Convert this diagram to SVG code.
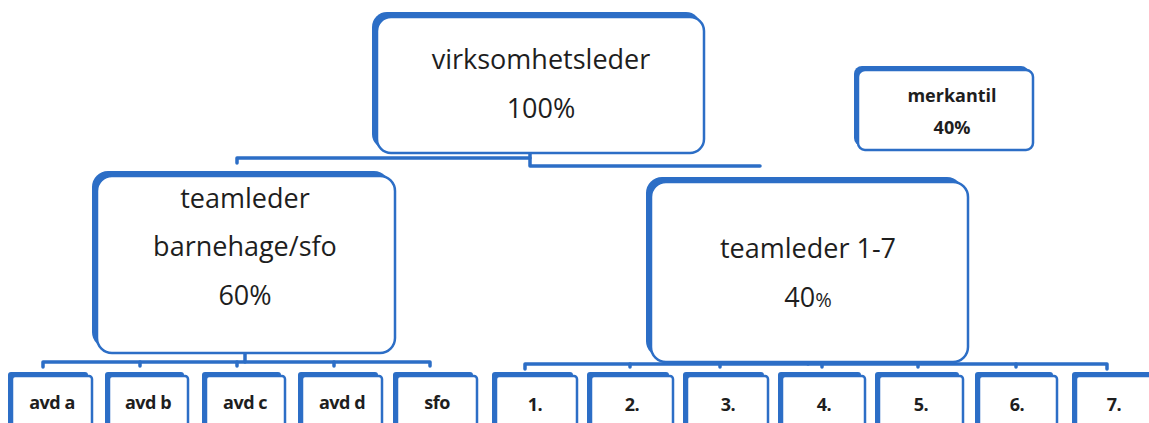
<svg xmlns="http://www.w3.org/2000/svg" width="1149" height="423" viewBox="0 0 1149 423">
<defs>
<style>
.bk{fill:#2c6ec6;}
.fr{fill:#ffffff;stroke:#2c6ec6;stroke-width:2.5;}
.ln{fill:none;stroke:#2c6ec6;stroke-width:3.5;stroke-linecap:round;stroke-linejoin:round;}
.t{font-family:"Open Sans",Lato,"Liberation Sans",sans-serif;fill:#1e1e1e;text-anchor:middle;}
.big{font-size:27px;font-weight:500;}
.sm{font-size:18px;font-weight:bold;}
.bt{font-size:18px;font-weight:bold;letter-spacing:-0.5px;}
</style>
</defs>
<rect width="1149" height="423" fill="#ffffff"/>
<g id="connectors">
<path class="ln" d="M237,163 L237,158 L530,158"/>
<path class="ln" d="M530,152 L530,166 L760,166"/>
<path class="ln" d="M245,353 L245,362"/>
<path class="ln" d="M43,367 L43,362 L430,362 L430,366"/>
<path class="ln" d="M140,362 L140,366 M237,362 L237,366 M334,362 L334,366"/>
<path class="ln" d="M808,362 L808,364"/>
<path class="ln" d="M525,369 L525,364 L1107,364 L1107,369"/>
<path class="ln" d="M630,364 L630,367 M720,364 L720,367 M822,364 L822,367 M918,364 L918,367 M1016,364 L1016,367"/>
</g>
<g id="virksomhetsleder">
<rect class="bk" x="372" y="12" width="329" height="137" rx="15"/>
<rect class="fr" x="377" y="17" width="327" height="136" rx="14"/>
<text class="t big" x="541" y="69">virksomhetsleder</text>
<text class="t big" x="541" y="118">100%</text>
</g>
<g id="merkantil">
<rect class="bk" x="854" y="66" width="175" height="80" rx="8"/>
<rect class="fr" x="858" y="70" width="175" height="80" rx="7"/>
<text class="t sm" x="952" y="102">merkantil</text>
<text class="t sm" x="952" y="134">40%</text>
</g>
<g id="teamleder-barnehage">
<rect class="bk" x="92" y="171" width="298" height="177" rx="16"/>
<rect class="fr" x="97" y="176" width="298" height="177" rx="15"/>
<text class="t big" x="245" y="208">teamleder</text>
<text class="t big" x="245" y="256">barnehage/sfo</text>
<text class="t big" x="245" y="305">60%</text>
</g>
<g id="teamleder-1-7">
<rect class="bk" x="646" y="177" width="317" height="180" rx="16"/>
<rect class="fr" x="651" y="182" width="317" height="180" rx="15"/>
<text class="t big" x="808" y="258">teamleder 1-7</text>
<text class="t big" x="808" y="307">40<tspan font-size="20px">%</tspan></text>
</g>
<g id="avd-a"><rect class="bk" x="8" y="372" width="80" height="60" rx="3"/><rect class="fr" x="12" y="376" width="80" height="60" rx="3"/><text class="t bt" x="52" y="409">avd a</text></g>
<g id="avd-b"><rect class="bk" x="105" y="372" width="79" height="60" rx="3"/><rect class="fr" x="109" y="376" width="79" height="60" rx="3"/><text class="t bt" x="148" y="409">avd b</text></g>
<g id="avd-c"><rect class="bk" x="202" y="372" width="79" height="60" rx="3"/><rect class="fr" x="206" y="376" width="79" height="60" rx="3"/><text class="t bt" x="245" y="409">avd c</text></g>
<g id="avd-d"><rect class="bk" x="298" y="372" width="80" height="60" rx="3"/><rect class="fr" x="302" y="376" width="80" height="60" rx="3"/><text class="t bt" x="342" y="409">avd d</text></g>
<g id="sfo"><rect class="bk" x="393" y="372" width="80" height="60" rx="3"/><rect class="fr" x="397" y="376" width="80" height="60" rx="3"/><text class="t bt" x="437" y="409">sfo</text></g>
<g id="n1"><rect class="bk" x="492" y="372" width="81" height="60" rx="3"/><rect class="fr" x="496" y="376" width="81" height="60" rx="3"/><text class="t bt" x="535" y="411">1.</text></g>
<g id="n2"><rect class="bk" x="587" y="372" width="82" height="60" rx="3"/><rect class="fr" x="591" y="376" width="82" height="60" rx="3"/><text class="t bt" x="632" y="411">2.</text></g>
<g id="n3"><rect class="bk" x="683" y="372" width="81" height="60" rx="3"/><rect class="fr" x="687" y="376" width="81" height="60" rx="3"/><text class="t bt" x="728" y="411">3.</text></g>
<g id="n4"><rect class="bk" x="778" y="372" width="83" height="60" rx="3"/><rect class="fr" x="782" y="376" width="83" height="60" rx="3"/><text class="t bt" x="824" y="411">4.</text></g>
<g id="n5"><rect class="bk" x="875" y="372" width="84" height="60" rx="3"/><rect class="fr" x="879" y="376" width="84" height="60" rx="3"/><text class="t bt" x="921" y="411">5.</text></g>
<g id="n6"><rect class="bk" x="975" y="372" width="78" height="60" rx="3"/><rect class="fr" x="979" y="376" width="78" height="60" rx="3"/><text class="t bt" x="1017" y="411">6.</text></g>
<g id="n7"><rect class="bk" x="1072" y="372" width="80" height="60" rx="3"/><rect class="fr" x="1076" y="376" width="80" height="60" rx="3"/><text class="t bt" x="1114" y="411">7.</text></g>
</svg>
